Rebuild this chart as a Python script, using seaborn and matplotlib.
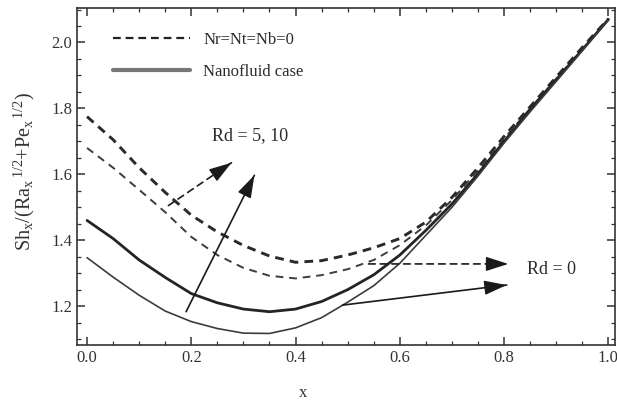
import numpy as np
import pandas as pd
import matplotlib
matplotlib.use("Agg")
import matplotlib.pyplot as plt
from matplotlib.lines import Line2D
from matplotlib.ticker import MultipleLocator, FormatStrFormatter
import seaborn as sns

# curve values (x step 0.05)
x_vals = [0.00, 0.05, 0.10, 0.15, 0.20, 0.25, 0.30, 0.35, 0.40, 0.45, 0.50,
          0.55, 0.60, 0.65, 0.70, 0.75, 0.80, 0.85, 0.90, 0.95, 1.00]

# Nr=Nt=Nb=0, upper (thick dashed)
sh_dash_thick = [1.775, 1.705, 1.620, 1.545, 1.476, 1.425, 1.384, 1.352, 1.333, 1.338, 1.355,
                 1.377, 1.405, 1.455, 1.530, 1.620, 1.715, 1.805, 1.895, 1.985, 2.072]
# Nr=Nt=Nb=0, lower (thin dashed)
sh_dash_thin = [1.680, 1.620, 1.553, 1.485, 1.410, 1.355, 1.316, 1.292, 1.284, 1.294, 1.312,
                1.340, 1.385, 1.445, 1.522, 1.612, 1.708, 1.800, 1.890, 1.980, 2.070]
# nanofluid case, upper (thick solid)
sh_solid_thick = [1.460, 1.405, 1.340, 1.287, 1.238, 1.210, 1.191, 1.183, 1.191, 1.214, 1.250,
                  1.295, 1.355, 1.430, 1.510, 1.602, 1.700, 1.795, 1.887, 1.978, 2.070]
# nanofluid case, lower (thin solid)
sh_solid_thin = [1.347, 1.288, 1.233, 1.185, 1.153, 1.132, 1.118, 1.117, 1.134, 1.165, 1.212,
                 1.262, 1.330, 1.415, 1.500, 1.595, 1.695, 1.790, 1.882, 1.975, 2.068]

legend_labels = ["Nr=Nt=Nb=0", "Nanofluid case"]

# annotation arrows: (start, tip)
arrow_rd510_dash = ((0.156, 1.505), (0.277, 1.635))
arrow_rd510_solid = ((0.190, 1.183), (0.321, 1.597))
arrow_rd0_dash = ((0.540, 1.328), (0.808, 1.328))
arrow_rd0_solid = ((0.490, 1.203), (0.805, 1.264))

sns.set_theme(style="ticks")
plt.rcParams['font.family'] = ['Liberation Serif', 'DejaVu Serif']
plt.rcParams['mathtext.fontset'] = 'custom'
plt.rcParams['mathtext.rm'] = 'Liberation Serif'
plt.rcParams['mathtext.it'] = 'Liberation Serif:italic'

ink = "#2b2b2b"

fig = plt.figure(figsize=(6.17, 4.0), dpi=100)
ax = fig.add_axes([0.125, 0.1375, 0.872, 0.842])

series = [
    (sh_dash_thick, 2.1, (0, (3.0, 2.1)), "#2a2a2a"),
    (sh_dash_thin, 1.4, (0, (4.0, 3.0)), "#3c3c3c"),
    (sh_solid_thick, 2.0, "-", "#242424"),
    (sh_solid_thin, 1.2, "-", "#3c3c3c"),
]
for vals, lw, ls, col in series:
    df = pd.DataFrame({"x": x_vals, "sh": vals})
    sns.lineplot(data=df, x="x", y="sh", ax=ax, color=col, lw=lw, linestyle=ls,
                 solid_joinstyle="round", dash_joinstyle="round")

# arrows: shaft and a solid head drawn separately
head = dict(arrowstyle="-|>,head_length=1.0,head_width=0.32", color="#1a1a1a", lw=1.0,
            shrinkA=0, shrinkB=0, mutation_scale=14)
for (start, tip), ls in [(arrow_rd510_dash, (0, (4, 3))), (arrow_rd510_solid, "-"),
                         (arrow_rd0_dash, (0, (4, 3))), (arrow_rd0_solid, "-")]:
    ax.annotate("", xy=tip, xytext=start,
                arrowprops=dict(arrowstyle="-", color="#1a1a1a", lw=1.2, linestyle=ls,
                                shrinkA=0, shrinkB=0))
    back = (tip[0] - 0.12 * (tip[0] - start[0]), tip[1] - 0.12 * (tip[1] - start[1]))
    ax.annotate("", xy=tip, xytext=back, arrowprops=head)

ax.text(0.240, 1.718, "Rd = 5, 10", fontsize=13, va="center", ha="left", color=ink)
ax.text(0.843, 1.310, "Rd = 0", fontsize=13, va="center", ha="left", color=ink)

handles = [Line2D([], [], color="#222222", lw=1.6, linestyle=(0, (3.5, 2.2))),
           Line2D([], [], color="#777777", lw=3.0)]
leg = ax.legend(handles, legend_labels, loc="upper left", bbox_to_anchor=(0.067, 0.93),
                frameon=False, fontsize=12, handlelength=4.6, handletextpad=0.8,
                labelspacing=0.95, borderpad=0, borderaxespad=0)
for t in leg.get_texts():
    t.set_color(ink)

ax.set_xlim(-0.019, 1.013)
ax.set_ylim(1.082, 2.104)
ax.xaxis.set_major_locator(MultipleLocator(0.2))
ax.xaxis.set_minor_locator(MultipleLocator(0.05))
ax.yaxis.set_major_locator(MultipleLocator(0.2))
ax.yaxis.set_minor_locator(MultipleLocator(0.05))
ax.xaxis.set_major_formatter(FormatStrFormatter("%.1f"))
ax.yaxis.set_major_formatter(FormatStrFormatter("%.1f"))
ax.tick_params(which="both", direction="in", top=True, right=True, colors="#333333",
               labelsize=12, labelcolor="#333333")
ax.tick_params(which="major", length=6, width=1.1)
ax.tick_params(which="minor", length=3, width=0.9)
for sp in ax.spines.values():
    sp.set_color("#333333")
    sp.set_linewidth(1.2)

ax.set_xlabel("x", fontsize=12, color="#333333")
ax.set_ylabel(r"$\mathrm{Sh_x/(Ra_x}^{\,1/2}\mathrm{+Pe_x}^{\,1/2}\mathrm{)}$",
              fontsize=14.5, color="#333333")
ax.xaxis.set_label_coords(0.42, -0.12)
ax.yaxis.set_label_coords(-0.075, 0.515)

fig.savefig("out.png", dpi=100)
